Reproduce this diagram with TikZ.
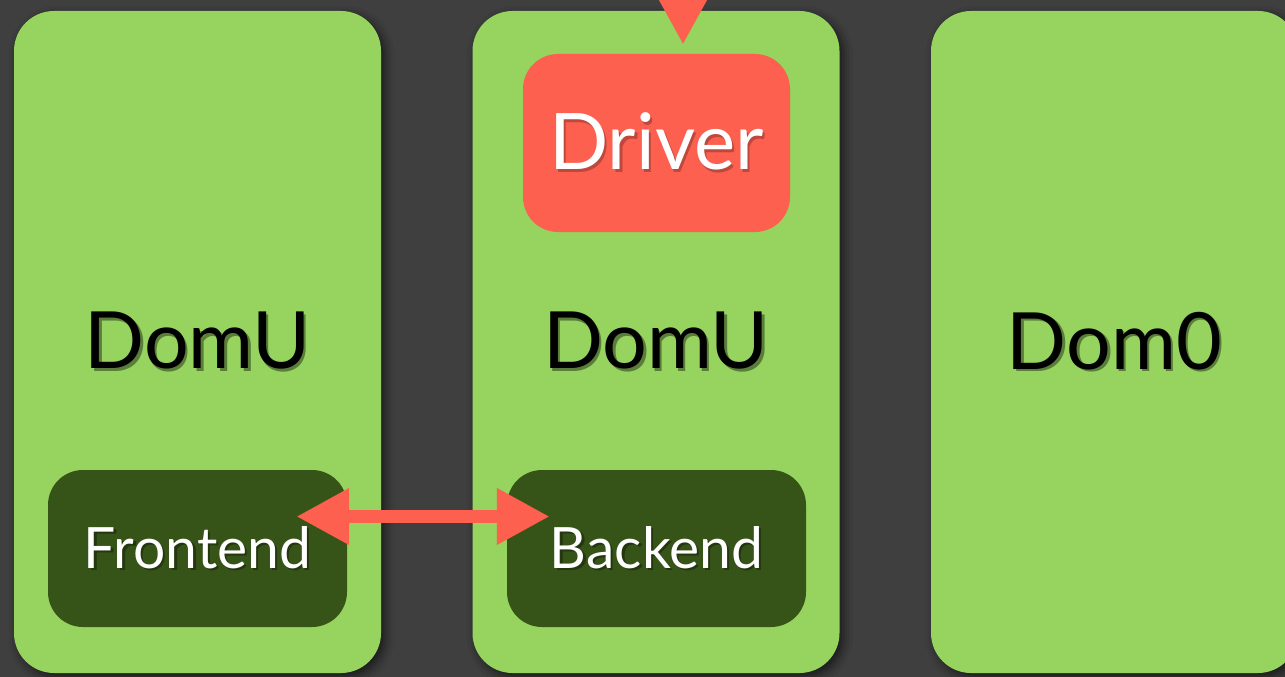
\documentclass[tikz,border=0pt]{standalone}
\usepackage{fontspec}
\setmainfont{Lato}
\usetikzlibrary{arrows.meta,calc,shadows.blur}
\definecolor{bgc}{HTML}{3F3F3F}
\definecolor{domgreen}{HTML}{96D35F}
\definecolor{darkgreen}{HTML}{375418}
\definecolor{redc}{HTML}{FE6050}
\newcommand\shadtext[2]{\makebox[0pt][l]{\kern2.5pt\raisebox{-2.5pt}{\color{#1}#2}}#2}
\tikzset{
  dombox/.style={fill=domgreen, rounded corners=40pt, minimum width=367pt, minimum height=662pt, inner sep=0pt,
    blur shadow={shadow xshift=4pt, shadow yshift=-4pt, shadow blur radius=9pt, shadow opacity=60},
    font=\fontsize{79}{79}\selectfont, text=black},
  drvbox/.style={fill=redc, rounded corners=35pt, minimum width=267pt, minimum height=178pt, inner sep=0pt,
    font=\fontsize{78}{78}\selectfont, text=white},
  endbox/.style={fill=darkgreen, rounded corners=35pt, minimum width=299pt, minimum height=157pt, inner sep=0pt,
    font=\fontsize{57}{57}\selectfont, text=white},
  redarrow/.style={draw=redc, line width=13.5pt},
}
\begin{document}
\begin{tikzpicture}[x=1pt,y=-1pt]
\useasboundingbox (0,0) rectangle (1285,677);
\fill[bgc] (0,0) rectangle (1285,677);
\node[dombox] (dom1) at (197.5,342) {\shadtext{domgreen!60!black}{DomU}};
\node[dombox] (dom2) at (656,342) {\shadtext{domgreen!60!black}{DomU}};
\node[dombox] (dom0) at (1114.5,342) {\shadtext{domgreen!60!black}{Dom0}};
\node[drvbox] (driver) at (656.5,143) {\shadtext{redc!75!black}{Driver}};
\node[endbox] (frontend) at (197.5,548.5) {\shadtext{darkgreen!65!black}{Frontend}};
\node[endbox] (backend) at (656.5,548.5) {\shadtext{darkgreen!65!black}{Backend}};
\coordinate (topin) at (683,-80);
\draw[redarrow, -{Triangle[length=53pt,width=53pt]}] (topin) -- ($(driver.north)+(26.5,-9)$);
\draw[redarrow, {Triangle[length=53pt,width=53pt]}-{Triangle[length=53pt,width=53pt]}]
  ($(frontend.east)+(-51,-32)$) -- ($(backend.west)+(43,-32)$);
\end{tikzpicture}
\end{document}
